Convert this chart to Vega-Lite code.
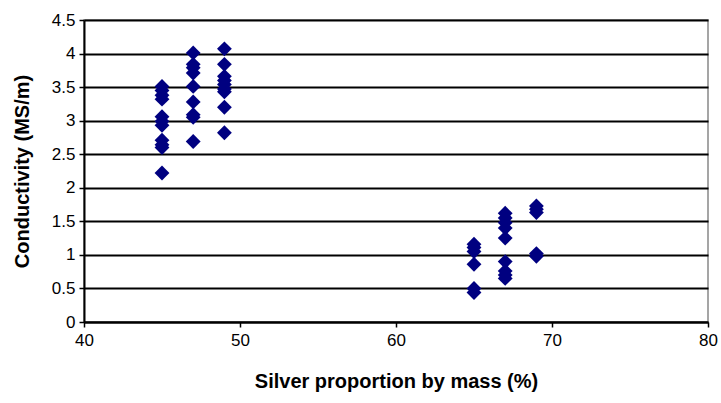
{
  "$schema": "https://vega.github.io/schema/vega-lite/v6.json",
  "width": 624,
  "height": 302,
  "autosize": "none",
  "padding": {"left": 84, "top": 20, "right": 13, "bottom": 81},
  "background": "white",
  "config": {
    "view": {"stroke": "#888888", "strokeWidth": 1.5},
    "font": "Liberation Sans"
  },
  "data": {
    "values": [
      {"silver": 45, "cond": 3.51}, {"silver": 45, "cond": 3.45}, {"silver": 45, "cond": 3.38}, {"silver": 45, "cond": 3.32},
      {"silver": 45, "cond": 3.06}, {"silver": 45, "cond": 2.99}, {"silver": 45, "cond": 2.93},
      {"silver": 45, "cond": 2.71}, {"silver": 45, "cond": 2.64}, {"silver": 45, "cond": 2.6}, {"silver": 45, "cond": 2.22},
      {"silver": 47, "cond": 4.01}, {"silver": 47, "cond": 3.84}, {"silver": 47, "cond": 3.79}, {"silver": 47, "cond": 3.71},
      {"silver": 47, "cond": 3.51}, {"silver": 47, "cond": 3.28}, {"silver": 47, "cond": 3.09}, {"silver": 47, "cond": 3.05}, {"silver": 47, "cond": 2.69},
      {"silver": 49, "cond": 4.07}, {"silver": 49, "cond": 3.84}, {"silver": 49, "cond": 3.66}, {"silver": 49, "cond": 3.6},
      {"silver": 49, "cond": 3.54}, {"silver": 49, "cond": 3.47}, {"silver": 49, "cond": 3.43}, {"silver": 49, "cond": 3.2}, {"silver": 49, "cond": 2.82},
      {"silver": 65, "cond": 1.16}, {"silver": 65, "cond": 1.11}, {"silver": 65, "cond": 1.05}, {"silver": 65, "cond": 0.86},
      {"silver": 65, "cond": 0.5}, {"silver": 65, "cond": 0.44},
      {"silver": 67, "cond": 1.62}, {"silver": 67, "cond": 1.55}, {"silver": 67, "cond": 1.48}, {"silver": 67, "cond": 1.4},
      {"silver": 67, "cond": 1.25}, {"silver": 67, "cond": 0.9}, {"silver": 67, "cond": 0.76}, {"silver": 67, "cond": 0.7}, {"silver": 67, "cond": 0.65},
      {"silver": 69, "cond": 1.73}, {"silver": 69, "cond": 1.68}, {"silver": 69, "cond": 1.63},
      {"silver": 69, "cond": 1.02}, {"silver": 69, "cond": 0.98}
    ]
  },
  "mark": {"type": "point", "shape": "diamond", "filled": true, "color": "#000080", "opacity": 1, "size": 220},
  "encoding": {
    "x": {
      "field": "silver", "type": "quantitative",
      "scale": {"domain": [40, 80], "nice": false, "zero": false},
      "axis": {
        "title": "Silver proportion by mass (%)", "values": [40, 50, 60, 70, 80],
        "grid": false, "domainColor": "black", "domainWidth": 2, "tickColor": "black", "tickSize": 5, "tickWidth": 1.5,
        "labelFontSize": 17, "labelColor": "black", "labelPadding": 5, "labelFlush": false,
        "titleFontSize": 20, "titleFontWeight": "bold", "titleColor": "black", "titlePadding": 23
      }
    },
    "y": {
      "field": "cond", "type": "quantitative",
      "scale": {"domain": [0, 4.5], "nice": false},
      "axis": {
        "title": "Conductivity (MS/m)", "values": [0, 0.5, 1, 1.5, 2, 2.5, 3, 3.5, 4, 4.5], "format": "~g",
        "grid": true, "gridColor": "black", "gridWidth": 2, "gridOpacity": 1,
        "domainColor": "black", "domainWidth": 2, "tickColor": "black", "tickSize": 5, "tickWidth": 1.5,
        "labelFontSize": 17, "labelColor": "black", "labelPadding": 4, "labelFlush": false,
        "titleFontSize": 20, "titleFontWeight": "bold", "titleColor": "black", "titlePadding": 19
      }
    }
  }
}
